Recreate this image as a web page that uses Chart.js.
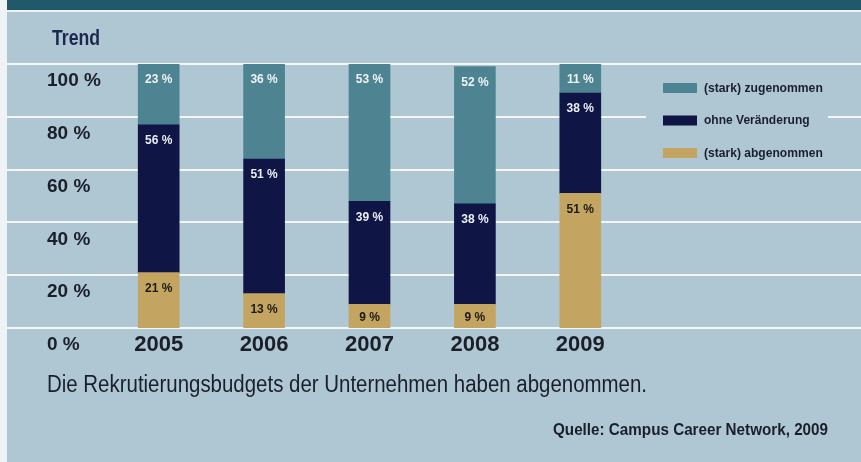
<!DOCTYPE html>
<html>
<head>
<meta charset="utf-8">
<script src="https://cdn.jsdelivr.net/npm/chart.js@4"></script>
<style>
  html, body { margin: 0; padding: 0; background: #aec7d3; }
  #wrap { width: 861px; height: 462px; }
</style>
</head>
<body>
<div id="wrap"><canvas id="trend"></canvas></div>
<script>
const years = ['2005', '2006', '2007', '2008', '2009'];
const abgenommen = [21, 13, 9, 9, 51];
const ohneVeraenderung = [56, 51, 39, 38, 38];
const zugenommen = [23, 36, 53, 52, 11];
const yTicks = [0, 20, 40, 60, 80, 100];

const FONT = "'Liberation Sans', Arial, sans-serif";
const BG = '#aec7d3';

const decor = {
    id: 'decor',
    beforeDraw(chart) {
        const ctx = chart.ctx;
        ctx.save();
        ctx.fillStyle = BG;
        ctx.fillRect(0, 0, chart.width, chart.height);
        // dark band on top and white edge
        ctx.fillStyle = '#21596a';
        ctx.fillRect(0, 0, chart.width, 10);
        ctx.fillStyle = '#eef3f5';
        ctx.fillRect(0, 10, chart.width, 2);
        ctx.fillRect(0, 0, 7, chart.height);
        // grid lines over the full width
        const y = chart.scales.y;
        ctx.strokeStyle = '#f4f7f8';
        ctx.lineWidth = 2;
        yTicks.forEach(v => {
            const py = Math.round(y.getPixelForValue(v));
            ctx.beginPath();
            ctx.moveTo(7, py);
            ctx.lineTo(chart.width, py);
            ctx.stroke();
        });
        // legend area
        ctx.fillStyle = BG;
        ctx.fillRect(646, 70, 182, 96);
        const sets = chart.data.datasets.slice().reverse();
        sets.forEach((ds, i) => {
            const cy = 88 + i * 32.5;
            ctx.fillStyle = ds.backgroundColor;
            ctx.fillRect(663, cy - 5, 34, 10);
            ctx.fillStyle = '#1b1f2c';
            ctx.font = 'bold 13px ' + FONT;
            ctx.textBaseline = 'middle';
            ctx.textAlign = 'left';
            ctx.fillText(ds.label, 704, cy, ds.label.length * 6.6);
        });
        // texts
        ctx.fillStyle = '#1c2752';
        ctx.font = 'bold 22px ' + FONT;
        ctx.textBaseline = 'middle';
        ctx.fillText('Trend', 52, 39, 48);
        ctx.fillStyle = '#1b1f2a';
        ctx.font = '23px ' + FONT;
        ctx.fillText('Die Rekrutierungsbudgets der Unternehmen haben abgenommen.', 47, 386, 600);
        ctx.font = 'bold 17px ' + FONT;
        ctx.fillText('Quelle: Campus Career Network, 2009', 553, 430, 275);
        ctx.restore();
    },
    afterDatasetsDraw(chart) {
        const ctx = chart.ctx;
        ctx.save();
        ctx.font = 'bold 12px ' + FONT;
        ctx.textAlign = 'center';
        ctx.textBaseline = 'middle';
        chart.data.datasets.forEach((ds, di) => {
            const meta = chart.getDatasetMeta(di);
            meta.data.forEach((bar, i) => {
                const h = bar.base - bar.y;
                const off = Math.min(16, h / 2 + 2);
                ctx.fillStyle = ds.labelColor;
                ctx.fillText(ds.data[i] + ' %', bar.x, Math.max(bar.y, chart.chartArea.top) + off, 30);
            });
        });
        ctx.restore();
    }
};

new Chart(document.getElementById('trend'), {
    type: 'bar',
    data: {
        labels: years,
        datasets: [
            { label: '(stark) abgenommen', data: abgenommen, backgroundColor: '#c3a561', labelColor: '#1c1a14' },
            { label: 'ohne Veränderung', data: ohneVeraenderung, backgroundColor: '#0f1545', labelColor: '#e9eef2' },
            { label: '(stark) zugenommen', data: zugenommen, backgroundColor: '#4e8492', labelColor: '#eef3f5' }
        ]
    },
    options: {
        responsive: true,
        maintainAspectRatio: false,
        animation: false,
        layout: { padding: { top: 64, left: 47, right: 228, bottom: 0 } },
        datasets: { bar: { barThickness: 41 } },
        plugins: {
            legend: { display: false },
            tooltip: { enabled: false }
        },
        scales: {
            x: {
                stacked: true,
                grid: { display: false, drawTicks: false },
                border: { display: false },
                ticks: {
                    padding: 4,
                    color: '#1b1f2a',
                    font: { family: FONT, size: 22, weight: 'bold' }
                },
                afterFit(scale) { scale.height = 134; }
            },
            y: {
                stacked: true,
                min: 0,
                max: 100,
                grid: { display: false, drawTicks: false },
                border: { display: false },
                ticks: {
                    stepSize: 20,
                    crossAlign: 'far',
                    labelOffset: 17,
                    color: '#1b1f2a',
                    font: { family: FONT, size: 19, weight: 'bold' },
                    callback: v => v + ' %'
                },
                afterFit(scale) { scale.width = 59; }
            }
        }
    },
    plugins: [decor]
});
</script>
</body>
</html>
